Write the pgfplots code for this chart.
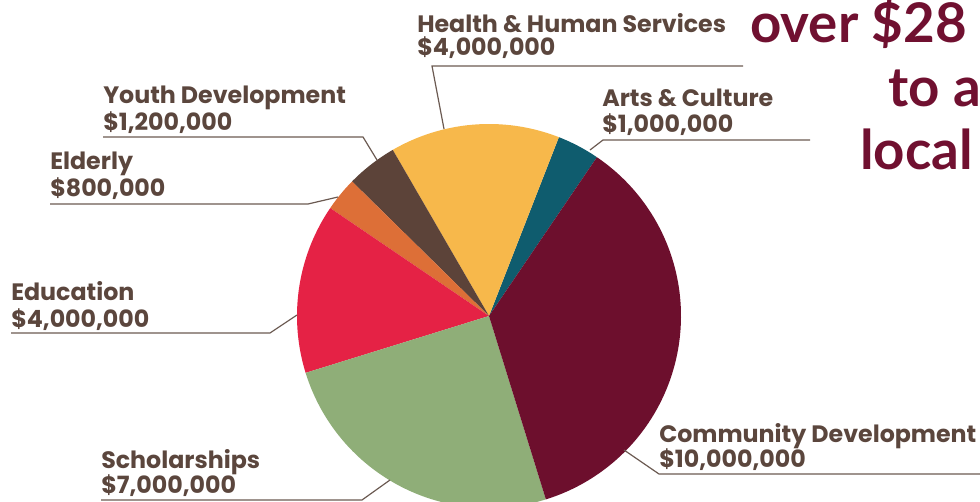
\documentclass[border=0pt]{standalone}
\usepackage{pgfplots}
\pgfplotsset{compat=1.18}
\usepackage{fontspec}
\setmainfont{Lato}
\newfontfamily\labelfont{Poppins}
\definecolor{cHealth}{HTML}{F7B84B}
\definecolor{cArts}{HTML}{0F5C6E}
\definecolor{cComm}{HTML}{6D0F2D}
\definecolor{cSchol}{HTML}{8FAE78}
\definecolor{cEdu}{HTML}{E52245}
\definecolor{cElder}{HTML}{DD6F37}
\definecolor{cYouth}{HTML}{5C4339}
\definecolor{cText}{HTML}{5B463D}
\definecolor{cLine}{HTML}{6B5A52}
\definecolor{cTitle}{HTML}{701030}
% values in millions, counter-clockwise from the start angle
\def\vArts{1}\def\vHealth{4}\def\vYouth{1.2}\def\vElder{0.8}\def\vEdu{4}\def\vSchol{7}\def\vComm{10}
\pgfmathsetmacro{\tot}{\vArts+\vHealth+\vYouth+\vElder+\vEdu+\vSchol+\vComm}
\pgfmathsetmacro{\aA}{55.8}
\pgfmathsetmacro{\aB}{\aA+360*\vArts/\tot}
\pgfmathsetmacro{\aC}{\aB+360*\vHealth/\tot}
\pgfmathsetmacro{\aD}{\aC+360*\vYouth/\tot}
\pgfmathsetmacro{\aE}{\aD+360*\vElder/\tot}
\pgfmathsetmacro{\aF}{\aE+360*\vEdu/\tot}
\pgfmathsetmacro{\aG}{\aF+360*\vSchol/\tot}
\pgfmathsetmacro{\aH}{\aG+360*\vComm/\tot}
% pie centre and radius (px)
\def\cx{489}\def\cy{316}\def\R{192}
\begin{document}
\begin{tikzpicture}
\useasboundingbox (0,0) rectangle (735pt,376.5pt);
\begin{axis}[hide axis, scale only axis, width=735pt, height=376.5pt,
  xmin=0, xmax=980, ymin=0, ymax=502, y dir=reverse, clip=true,
  anchor=south west, at={(0,0)}]
\addplot[fill=cArts, draw=none, domain=\aA:\aB, samples=20] ({\cx+\R*cos(x)},{\cy-\R*sin(x)}) -- (axis cs:\cx,\cy) -- cycle;
\addplot[fill=cHealth, draw=none, domain=\aB:\aC, samples=60] ({\cx+\R*cos(x)},{\cy-\R*sin(x)}) -- (axis cs:\cx,\cy) -- cycle;
\addplot[fill=cYouth, draw=none, domain=\aC:\aD, samples=20] ({\cx+\R*cos(x)},{\cy-\R*sin(x)}) -- (axis cs:\cx,\cy) -- cycle;
\addplot[fill=cElder, draw=none, domain=\aD:\aE, samples=20] ({\cx+\R*cos(x)},{\cy-\R*sin(x)}) -- (axis cs:\cx,\cy) -- cycle;
\addplot[fill=cEdu, draw=none, domain=\aE:\aF, samples=60] ({\cx+\R*cos(x)},{\cy-\R*sin(x)}) -- (axis cs:\cx,\cy) -- cycle;
\addplot[fill=cSchol, draw=none, domain=\aF:\aG, samples=90] ({\cx+\R*cos(x)},{\cy-\R*sin(x)}) -- (axis cs:\cx,\cy) -- cycle;
\addplot[fill=cComm, draw=none, domain=\aG:\aH, samples=120] ({\cx+\R*cos(x)},{\cy-\R*sin(x)}) -- (axis cs:\cx,\cy) -- cycle;
% leader lines
\draw[cLine, line width=0.9pt] (743,66) -- (432,66) -- (444,129);
\draw[cLine, line width=0.9pt] (810,140) -- (603,140) -- (590,150);
\draw[cLine, line width=0.9pt] (103,137) -- (363,137) -- (377,160);
\draw[cLine, line width=0.9pt] (50,204) -- (308,204) -- (338,197);
\draw[cLine, line width=0.9pt] (11,333) -- (270,333) -- (297,315);
\draw[cLine, line width=0.9pt] (101,500) -- (362,500) -- (390,480);
\draw[cLine, line width=0.9pt] (980,474) -- (659,474) -- (624,450);
% labels
\tikzset{lab/.style={anchor=base west, inner sep=0pt, text=cText,
   font=\labelfont\fontsize{17.8}{18}\selectfont\bfseries}}
\node[lab] at (417,33) {Health \& Human Services};
\node[lab] at (417,56) {\$4,000,000};
\node[lab] at (602,107) {Arts \& Culture};
\node[lab] at (602,133) {\$1,000,000};
\node[lab] at (103,104) {Youth Development};
\node[lab] at (103,131) {\$1,200,000};
\node[lab] at (50,170) {Elderly};
\node[lab] at (50,197) {\$800,000};
\node[lab] at (11,300) {Education};
\node[lab] at (11,327) {\$4,000,000};
\node[lab] at (101,468) {Scholarships};
\node[lab] at (101,493) {\$7,000,000};
\node[lab] at (659,442) {Community Development};
\node[lab] at (659,467) {\$10,000,000};
% title (cropped at the right edge)
\tikzset{ttl/.style={anchor=base west, inner sep=0pt, text=cTitle,
   font=\fontsize{41}{41}\selectfont\bfseries}}
\node[ttl] at (750,43) {over \$28 million};
\node[ttl] at (888,107) {to area};
\node[ttl] at (860,170) {local};
\end{axis}
\end{tikzpicture}
\end{document}
